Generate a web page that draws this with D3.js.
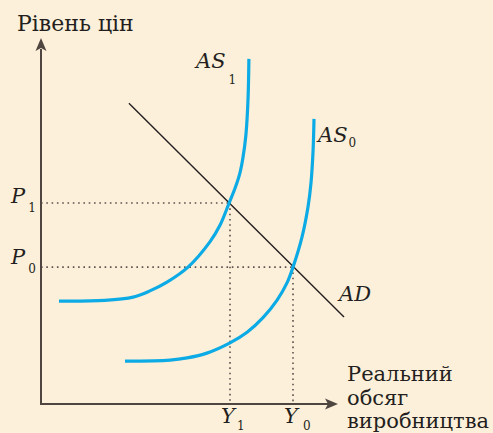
<!DOCTYPE html>
<html>
<head>
<meta charset="utf-8">
<script src="https://cdn.jsdelivr.net/npm/d3@7"></script>
<style>
  html, body { margin: 0; padding: 0; background: #fdf0da; }
  svg { display: block; }
  .lbl { font-family: "DejaVu Serif", serif; fill: #231f20; }
  .math { font-family: "DejaVu Serif", serif; font-style: italic; fill: #231f20; }
</style>
</head>
<body>
<div id="chart"></div>
<script>
// equilibrium values (abstract units, 0..100)
const priceLevels = [{ name: "P", sub: "1", value: 54.9 }, { name: "P", sub: "0", value: 37.4 }];
const outputLevels = [{ name: "Y", sub: "1", value: 63 }, { name: "Y", sub: "0", value: 84 }];

// aggregate demand line (two end points)
const adLine = [[29.3, 82.2], [101, 23.8]];

// aggregate supply curves
const as1Points = [
  [6, 28.1], [21.3, 28.3], [30.7, 29.2], [36.3, 30.9], [42, 33.3], [49, 37.4],
  [56.3, 44.3], [59.7, 48.9], [62.7, 54.9], [64.7, 59], [66.3, 63.1], [67.3, 67.2],
  [68.3, 73.5], [69, 83.1], [69.3, 94.3]
];
const as0Points = [
  [28, 11.7], [43, 12], [48.7, 12.6], [55.3, 13.9], [63, 16.7], [68.7, 19.6],
  [74, 23.6], [78.7, 28.4], [82, 33.1], [84, 37.4], [87, 45.6], [89, 53.8],
  [90, 60.4], [90.7, 69.4], [91, 77.9]
];

const width = 493, height = 433;
const x = d3.scaleLinear().domain([0, 100]).range([41, 341]);
const y = d3.scaleLinear().domain([0, 100]).range([404, 38]);

const svg = d3.select('#chart').append('svg')
  .attr('width', width)
  .attr('height', height);

svg.append('rect').attr('width', width).attr('height', height).attr('fill', '#fdf0da');

const axisColor = '#4f4641';

// dotted guide lines
const dots = svg.append('g')
  .attr('stroke', '#5a524d')
  .attr('stroke-width', 1.6)
  .attr('stroke-dasharray', '1.6 3.7');

priceLevels.forEach((p, i) => {
  dots.append('line')
    .attr('x1', x(0)).attr('x2', x(outputLevels[i].value))
    .attr('y1', y(p.value)).attr('y2', y(p.value));
});
outputLevels.forEach((o, i) => {
  dots.append('line')
    .attr('x1', x(o.value)).attr('x2', x(o.value))
    .attr('y1', y(priceLevels[i].value)).attr('y2', y(0));
});

// axes
svg.append('line')
  .attr('x1', x(0)).attr('y1', y(0)).attr('x2', x(0)).attr('y2', y(97))
  .attr('stroke', axisColor).attr('stroke-width', 2);
svg.append('line')
  .attr('x1', x(0) - 1).attr('y1', y(0)).attr('x2', x(96)).attr('y2', y(0))
  .attr('stroke', axisColor).attr('stroke-width', 2);

// arrow heads
const yTip = [x(0), y(100)];
svg.append('path')
  .attr('d', `M${yTip[0]},${yTip[1]} L${yTip[0] + 5.5},${yTip[1] + 13} L${yTip[0]},${yTip[1] + 10} L${yTip[0] - 5.5},${yTip[1] + 13} Z`)
  .attr('fill', axisColor);
const xTip = [x(99), y(0)];
svg.append('path')
  .attr('d', `M${xTip[0]},${xTip[1]} L${xTip[0] - 13},${xTip[1] - 5.5} L${xTip[0] - 10},${xTip[1]} L${xTip[0] - 13},${xTip[1] + 5.5} Z`)
  .attr('fill', axisColor);

// AD line
svg.append('line')
  .attr('x1', x(adLine[0][0])).attr('y1', y(adLine[0][1]))
  .attr('x2', x(adLine[1][0])).attr('y2', y(adLine[1][1]))
  .attr('stroke', '#231f20').attr('stroke-width', 1.4);

// AS curves
const line = d3.line()
  .x(d => x(d[0]))
  .y(d => y(d[1]))
  .curve(d3.curveCatmullRom.alpha(0.5));

[as1Points, as0Points].forEach(pts => {
  svg.append('path')
    .attr('d', line(pts))
    .attr('fill', 'none')
    .attr('stroke', '#0cabe6')
    .attr('stroke-width', 3.2)
    .attr('stroke-linecap', 'butt');
});

// text labels
svg.append('text').attr('class', 'lbl')
  .attr('x', 17).attr('y', 31)
  .attr('font-size', 22)
  .text('Рівень цін');

const xTitle = ['Реальний', 'обсяг', 'виробництва'];
svg.append('text').attr('class', 'lbl')
  .attr('font-size', 21)
  .selectAll('tspan')
  .data(xTitle)
  .join('tspan')
  .attr('x', 347)
  .attr('y', (d, i) => 381 + i * 23.5)
  .text(d => d);

function mathLabel(px, py, main, sub, subDx, subDy, size) {
  const t = svg.append('text').attr('class', 'math')
    .attr('x', px).attr('y', py)
    .attr('font-size', size || 21);
  t.append('tspan').text(main);
  if (sub) {
    t.append('tspan')
      .attr('dx', subDx).attr('dy', subDy)
      .attr('font-size', 12)
      .attr('font-style', 'normal')
      .text(sub);
  }
}

mathLabel(196, 68, 'AS', '1', 3, 16);
mathLabel(318, 142, 'AS', '0', 1, 5);
mathLabel(339, 301, 'AD');
priceLevels.forEach(p => {
  mathLabel(11, y(p.value) + (p.sub === '1' ? 0 : -3), p.name, p.sub, 3, 9);
});
outputLevels.forEach(o => {
  mathLabel(x(o.value) - 9, 423, o.name, o.sub, o.sub === '1' ? 2 : 5, 7);
});
</script>
</body>
</html>
